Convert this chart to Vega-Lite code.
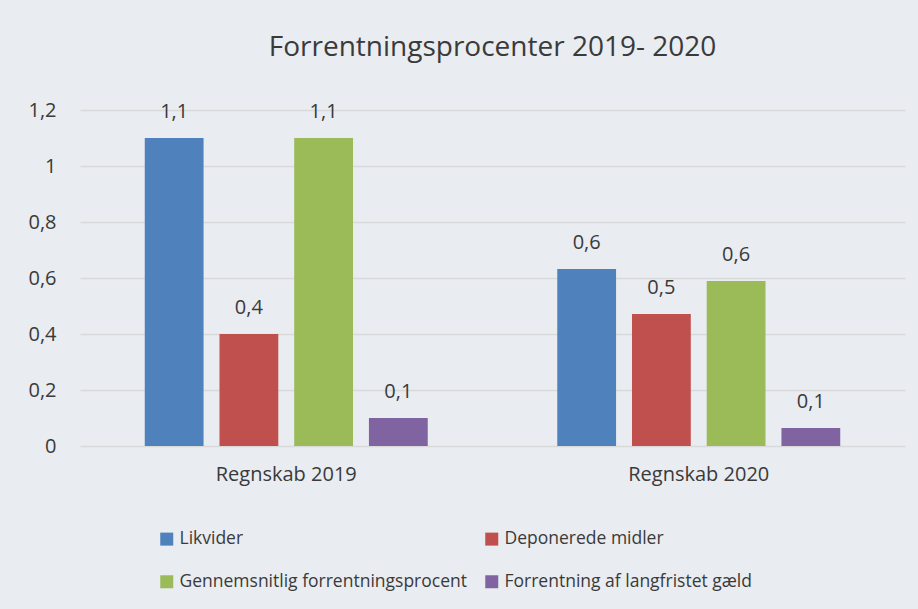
{
  "$schema": "https://vega.github.io/schema/vega-lite/v6.json",
  "autosize": "none",
  "padding": {"left": 80, "top": 110, "right": 13, "bottom": 163},
  "width": 825,
  "height": 336,
  "background": "#E9ECF0",
  "title": {"text": "Forrentningsprocenter 2019- 2020", "fontSize": 28, "font": "Open Sans", "fontWeight": "normal", "color": "#3A3A3A", "anchor": "middle", "offset": 38},
  "data": {"values": [
    {"gruppe": "Regnskab 2019", "serie": "Likvider", "vaerdi": 1.1},
    {"gruppe": "Regnskab 2019", "serie": "Deponerede midler", "vaerdi": 0.4},
    {"gruppe": "Regnskab 2019", "serie": "Gennemsnitlig forrentningsprocent", "vaerdi": 1.1},
    {"gruppe": "Regnskab 2019", "serie": "Forrentning af langfristet gæld", "vaerdi": 0.1},
    {"gruppe": "Regnskab 2020", "serie": "Likvider", "vaerdi": 0.632},
    {"gruppe": "Regnskab 2020", "serie": "Deponerede midler", "vaerdi": 0.471},
    {"gruppe": "Regnskab 2020", "serie": "Gennemsnitlig forrentningsprocent", "vaerdi": 0.589},
    {"gruppe": "Regnskab 2020", "serie": "Forrentning af langfristet gæld", "vaerdi": 0.064}
  ]},
  "encoding": {
    "x": {"field": "gruppe", "type": "nominal", "title": null,
      "scale": {"paddingInner": 0.314, "paddingOuter": 0.157},
      "axis": {"labelAngle": 0, "domain": false, "ticks": false, "labelFontSize": 20, "labelFont": "Open Sans", "labelColor": "#3A3A3A", "labelPadding": 18, "labelBaseline": "top"}},
    "xOffset": {"field": "serie", "type": "nominal",
      "sort": ["Likvider", "Deponerede midler", "Gennemsnitlig forrentningsprocent", "Forrentning af langfristet gæld"],
      "scale": {"paddingInner": 0.213, "paddingOuter": 0}},
    "y": {"field": "vaerdi", "type": "quantitative", "title": null,
      "scale": {"domain": [0, 1.2], "nice": false},
      "axis": {"values": [0, 0.2, 0.4, 0.6, 0.8, 1, 1.2], "format": ".1~f", "domain": false, "ticks": false, "labelFontSize": 20, "labelFont": "Open Sans", "labelColor": "#3A3A3A", "labelPadding": 24, "gridColor": "#D9D9D9", "gridWidth": 1.5}}
  },
  "layer": [
    {"mark": {"type": "bar"},
      "encoding": {
        "color": {"field": "serie", "type": "nominal",
          "sort": ["Likvider", "Deponerede midler", "Gennemsnitlig forrentningsprocent", "Forrentning af langfristet gæld"],
          "scale": {"domain": ["Likvider", "Deponerede midler", "Gennemsnitlig forrentningsprocent", "Forrentning af langfristet gæld"], "range": ["#4F81BD", "#C0504D", "#9BBB59", "#8064A2"]},
          "legend": {"title": null, "orient": "none", "direction": "horizontal", "legendX": 78, "legendY": 420, "columns": 2, "symbolType": "square", "symbolSize": 169, "symbolStrokeWidth": 0, "labelFontSize": 17.5, "labelFont": "Open Sans", "labelColor": "#3A3A3A", "labelOffset": 4, "labelLimit": 400, "rowPadding": 24, "columnPadding": 16, "padding": 0}}
      }},
    {"mark": {"type": "text", "baseline": "alphabetic", "dy": -20, "fontSize": 20, "font": "Open Sans", "color": "#3A3A3A"},
      "encoding": {"text": {"field": "vaerdi", "type": "quantitative", "format": ".1f"}}}
  ],
  "config": {
    "view": {"stroke": null},
    "locale": {"number": {"decimal": ",", "thousands": ".", "grouping": [3], "currency": ["", " kr."]}}
  }
}
